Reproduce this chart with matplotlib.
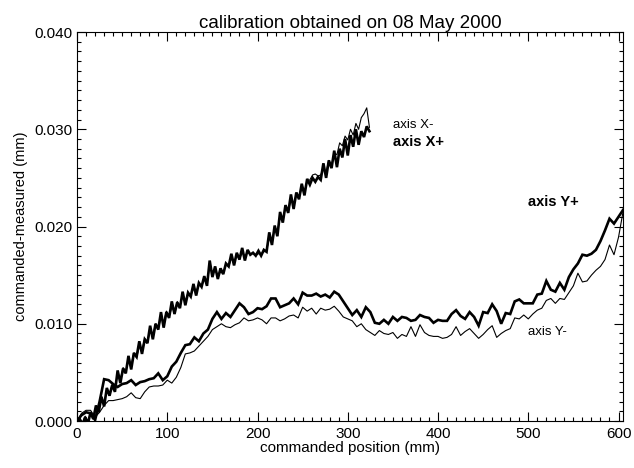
import numpy as np
import matplotlib
matplotlib.use('Agg')
import matplotlib.pyplot as plt
from matplotlib.ticker import MultipleLocator, FormatStrFormatter

matplotlib.rcParams['font.family'] = ['Liberation Sans', 'DejaVu Sans']

# commanded positions (mm): X axis sampled every 3 mm, Y axis every 5 mm
pos_x = np.arange(0, 325, 3)
pos_y = np.arange(0, 606, 5)

# commanded-measured, in micrometres (converted to mm below)
x_plus_um = [
    -0.3, 0.2, -0.4, 0.4, -0.3, 0.9, 0.2, 1.6, 0.9, 2.5,
    1.5, 3.4, 2.6, 3.7, 3.0, 5.2, 3.9, 5.4, 4.9, 6.7,
    5.3, 7.0, 6.6, 8.2, 6.9, 8.4, 8.0, 9.8, 8.4, 10.0,
    9.4, 11.2, 9.6, 11.2, 10.6, 12.3, 11.0, 12.2, 11.6, 13.3,
    11.9, 13.2, 12.8, 14.1, 12.9, 14.2, 13.8, 14.9, 13.9, 16.5,
    14.8, 15.9, 14.6, 15.7, 15.1, 16.2, 15.9, 17.2, 16.0, 17.3,
    16.6, 17.8, 16.5, 17.6, 17.1, 17.3, 17.0, 17.5, 17.0, 17.6,
    17.4, 19.4, 18.1, 20.1, 19.0, 21.5, 20.4, 22.2, 21.4, 23.3,
    21.8, 23.5, 22.8, 24.4, 23.2, 24.9, 24.3, 25.0, 24.6, 25.1,
    24.8, 26.5, 25.0, 26.8, 26.0, 27.8, 26.1, 28.0, 27.1, 29.0,
    27.3, 29.4, 28.2, 30.0, 28.4, 29.8, 29.2, 30.3, 29.8,
]
x_minus_um = [
    -0.2, 0.3, -0.2, 0.5, 0.0, 0.8, 0.5, 1.4, 1.2, 2.3,
    2.0, 3.0, 2.7, 3.8, 3.5, 4.7, 4.3, 5.5, 5.1, 6.2,
    5.8, 7.0, 6.5, 7.7, 7.3, 8.5, 8.1, 9.2, 8.8, 10.0,
    9.5, 10.6, 10.1, 11.3, 10.7, 11.7, 11.2, 12.3, 11.8, 12.8,
    12.3, 13.2, 12.9, 13.6, 13.3, 14.1, 13.8, 14.7, 14.3, 15.8,
    15.2, 15.5, 15.0, 15.3, 15.2, 16.1, 15.9, 16.7, 16.3, 17.1,
    16.7, 17.3, 16.9, 17.4, 17.1, 17.3, 17.0, 17.2, 17.2, 17.4,
    17.5, 18.8, 18.3, 19.9, 19.5, 20.9, 20.6, 22.0, 21.6, 22.7,
    22.3, 23.3, 23.0, 23.9, 23.7, 24.6, 24.8, 25.3, 25.4, 25.2,
    25.3, 26.0, 25.6, 26.8, 26.3, 27.5, 27.4, 28.6, 28.3, 29.3,
    28.9, 30.0, 29.4, 30.6, 30.0, 31.2, 31.6, 32.2, 30.2,
]
y_plus_um = [
    0.0, 0.6, 0.9, 0.8, 0.1, 2.0, 4.3, 4.2, 3.8, 3.5,
    3.8, 3.9, 4.2, 3.7, 4.0, 4.1, 4.3, 4.4, 4.9, 4.2,
    4.6, 5.6, 6.1, 7.0, 7.8, 7.9, 8.6, 8.2, 9.0, 9.4,
    10.5, 11.2, 10.5, 11.1, 10.7, 11.4, 12.1, 11.7, 11.0, 11.2,
    11.6, 11.5, 11.8, 12.6, 12.6, 11.7, 11.9, 12.1, 12.6, 12.0,
    13.2, 12.9, 12.9, 13.1, 12.8, 13.0, 12.7, 13.3, 13.0, 12.3,
    11.6, 10.9, 11.4, 10.7, 11.7, 11.2, 10.1, 10.0, 10.4, 10.0,
    10.7, 10.3, 10.7, 10.6, 10.3, 10.4, 10.9, 10.7, 10.6, 10.1,
    10.4, 10.3, 10.3, 11.0, 11.4, 10.8, 10.5, 11.2, 10.7, 9.8,
    11.2, 11.1, 12.0, 11.3, 10.0, 11.1, 11.0, 12.3, 12.5, 12.1,
    12.1, 12.1, 13.0, 13.1, 14.4, 13.5, 13.3, 14.2, 13.5, 14.8,
    15.6, 16.2, 17.1, 17.0, 17.2, 17.6, 18.5, 19.6, 20.8, 20.3,
    21.0, 21.7,
]
y_minus_um = [
    0.0, 0.8, 1.1, 1.1, 0.4, 0.9, 1.6, 2.1, 2.1, 2.2,
    2.3, 2.5, 2.9, 2.4, 2.3, 3.0, 3.5, 3.6, 3.6, 3.7,
    4.2, 3.9, 4.5, 5.5, 6.9, 7.0, 7.2, 7.7, 8.2, 8.7,
    9.4, 9.7, 10.0, 9.7, 9.6, 9.9, 10.1, 10.6, 10.3, 10.4,
    10.6, 10.4, 10.0, 10.6, 10.6, 10.3, 10.5, 10.8, 10.9, 10.6,
    11.7, 11.3, 11.6, 11.0, 11.6, 11.4, 11.5, 11.8, 11.3, 10.7,
    10.5, 10.3, 9.7, 10.0, 9.4, 9.1, 8.8, 9.3, 9.0, 8.9,
    9.1, 8.5, 8.9, 8.7, 9.7, 8.7, 9.9, 9.1, 8.8, 8.7,
    8.7, 8.5, 8.6, 8.9, 9.7, 8.8, 9.2, 9.5, 9.0, 8.5,
    8.9, 9.4, 9.8, 8.6, 9.0, 9.3, 9.5, 10.6, 10.5, 10.9,
    10.5, 11.0, 11.4, 11.6, 12.4, 12.6, 12.1, 12.6, 12.5, 13.2,
    13.9, 15.2, 14.3, 14.4, 15.0, 15.5, 15.9, 16.6, 18.1, 17.1,
    18.9, 21.5,
]

x_plus = np.array(x_plus_um) / 1000.0
x_minus = np.array(x_minus_um) / 1000.0
y_plus = np.array(y_plus_um) / 1000.0
y_minus = np.array(y_minus_um) / 1000.0

fig = plt.figure(figsize=(6.34, 4.68), dpi=100)
ax = fig.add_axes([0.1215, 0.1004, 0.8612, 0.8312])

thin, thick = 0.8, 1.9
ax.plot(pos_x, x_minus, color='black', lw=thin)
ax.plot(pos_x, x_plus, color='black', lw=thick, solid_joinstyle='miter')
ax.plot(pos_y, y_minus, color='black', lw=thin)
ax.plot(pos_y, y_plus, color='black', lw=thick, solid_joinstyle='miter')

ax.text(350, 0.0304, 'axis X-', fontsize=9.5, va='center')
ax.text(350, 0.0287, 'axis X+', fontsize=10.5, fontweight='bold', va='center')
ax.text(500, 0.0225, 'axis Y+', fontsize=10.5, fontweight='bold', va='center')
ax.text(500, 0.0092, 'axis Y-', fontsize=9.5, va='center')

ax.set_xlim(0, 605)
ax.set_ylim(0, 0.040)
ax.xaxis.set_major_locator(MultipleLocator(100))
ax.xaxis.set_minor_locator(MultipleLocator(10))
ax.yaxis.set_major_locator(MultipleLocator(0.010))
ax.yaxis.set_minor_locator(MultipleLocator(0.001))
ax.yaxis.set_major_formatter(FormatStrFormatter('%.3f'))

ax.tick_params(which='both', direction='in', top=True, right=True,
               width=0.8, labelsize=11)
ax.tick_params(which='major', length=6.5)
ax.tick_params(which='minor', length=3.2)
ax.tick_params(axis='y', pad=3)
ax.tick_params(axis='x', pad=4)
for sp in ax.spines.values():
    sp.set_linewidth(0.8)

ax.set_xlabel('commanded position (mm)', fontsize=11, labelpad=0)
ax.set_ylabel('commanded-measured (mm)', fontsize=10.5, labelpad=5)
ax.set_title('calibration obtained on 08 May 2000', fontsize=13.5, pad=3)

fig.savefig('out.png', dpi=100)
